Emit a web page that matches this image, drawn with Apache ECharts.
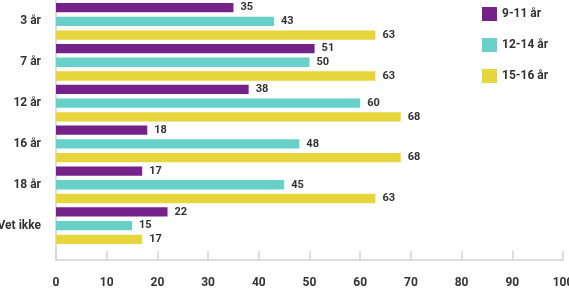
<!DOCTYPE html>
<html>
<head>
<meta charset="utf-8">
<script src="https://cdn.jsdelivr.net/npm/echarts@6/dist/echarts.min.js"></script>
<style>
    html, body { margin: 0; padding: 0; background: #fff; }
    #chart { width: 569px; height: 297px; }
</style>
</head>
<body>
<div id="chart"></div>
<script>
var categories = ["3 år", "7 år", "12 år", "16 år", "18 år", "Vet ikke"];
var seriesNames = ["9-11 år", "12-14 år", "15-16 år"];
var values911 = [35, 51, 38, 18, 17, 22];
var values1214 = [43, 50, 60, 48, 45, 15];
var values1516 = [63, 63, 68, 68, 63, 17];
var xTicks = [0, 10, 20, 30, 40, 50, 60, 70, 80, 90, 100];
var colors = ["#74228a", "#66d0c9", "#e6d53b"];

var font = "Roboto, 'DejaVu Sans', sans-serif";
var axisGrey = "#d2d2d2";

var c = echarts.init(document.getElementById("chart"));

function barSeries(name, data, color) {
    return {
        name: name,
        type: "bar",
        xAxisIndex: 0,
        yAxisIndex: 0,
        data: data,
        barGap: "47%",
        barCategoryGap: "10%",
        itemStyle: { color: color },
        label: {
            show: true,
            position: "right",
            distance: 7,
            color: "#333",
            fontSize: 11,
            fontWeight: "bold",
            fontFamily: font
        }
    };
}

var option = {
    animation: false,
    textStyle: { fontFamily: font },
    legend: {
        orient: "vertical",
        left: 477,
        top: 2,
        icon: "rect",
        itemWidth: 15,
        itemHeight: 14,
        itemGap: 17,
        data: seriesNames,
        textStyle: {
            fontSize: 12,
            fontWeight: "bold",
            color: "#333",
            fontFamily: font
        }
    },
    grid: [
        { left: 56, right: 6, top: 1, bottom: 51, containLabel: false, outerBoundsMode: "none" },
        { left: 56, right: 6, top: 1, bottom: 37, containLabel: false, outerBoundsMode: "none" }
    ],
    xAxis: [
        {
            gridIndex: 0,
            type: "value",
            min: 0,
            max: 100,
            interval: 10,
            show: false
        },
        {
            gridIndex: 1,
            type: "value",
            min: xTicks[0],
            max: xTicks[xTicks.length - 1],
            interval: 10,
            axisLine: { show: true, lineStyle: { color: axisGrey, width: 1.5 } },
            axisTick: { show: true, inside: true, length: 9, lineStyle: { color: axisGrey, width: 1.5 } },
            splitLine: { show: false },
            axisLabel: {
                margin: 17,
                color: "#333",
                fontSize: 12,
                fontWeight: "bold",
                fontFamily: font
            }
        }
    ],
    yAxis: [
        {
            gridIndex: 0,
            type: "category",
            inverse: true,
            data: categories,
            axisLine: { show: false },
            axisTick: { show: false },
            axisLabel: {
                margin: 15,
                color: "#333",
                fontSize: 12,
                fontWeight: "bold",
                fontFamily: font
            }
        },
        {
            gridIndex: 1,
            type: "value",
            axisLine: { show: true, lineStyle: { color: axisGrey, width: 1.5 } },
            axisTick: { show: false },
            axisLabel: { show: false },
            splitLine: { show: false }
        }
    ],
    series: [
        barSeries(seriesNames[0], values911, colors[0]),
        barSeries(seriesNames[1], values1214, colors[1]),
        barSeries(seriesNames[2], values1516, colors[2])
    ]
};

c.setOption(option);
</script>
</body>
</html>
